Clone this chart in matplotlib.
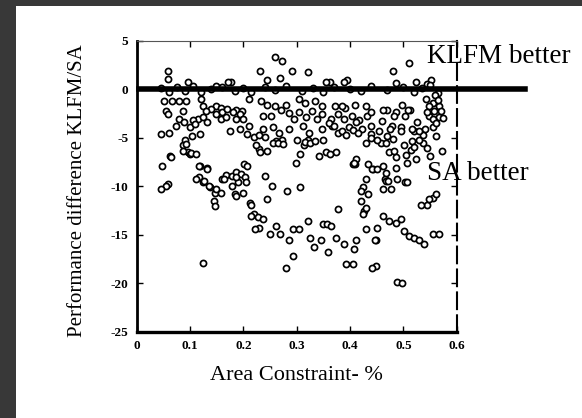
import numpy as np
import matplotlib.pyplot as plt
from matplotlib.patches import Rectangle

# points above the zero line
above_x = [0.058, 0.058, 0.096, 0.149, 0.177, 0.231, 0.259, 0.272, 0.269, 0.291, 0.322, 0.244,
           0.172, 0.394, 0.363, 0.355, 0.389, 0.48, 0.51, 0.524, 0.552, 0.545, 0.486]
above_y = [1.9, 1.0, 0.7, 0.35, 0.75, 1.9, 3.3, 2.9, 1.2, 1.9, 1.8, 0.9,
           0.7, 0.9, 0.7, 0.7, 0.75, 1.9, 2.7, 0.7, 0.9, 0.5, 0.6]

# points sitting on the zero line
zero_x = [0.045, 0.06, 0.075, 0.09, 0.105, 0.12, 0.14, 0.16, 0.185, 0.2, 0.215, 0.24, 0.26, 0.28,
          0.31, 0.33, 0.35, 0.37, 0.4, 0.42, 0.44, 0.47, 0.5, 0.52, 0.535, 0.55, 0.565]
zero_y = [0.1, -0.3, 0.2, -0.2, 0.3, -0.3, 0.0, 0.2, -0.2, 0.1, -0.3, 0.2, -0.1, 0.3,
          -0.2, 0.1, -0.3, 0.2, 0.0, -0.2, 0.3, -0.1, 0.2, -0.3, 0.1, 0.4, -0.4]

# main band between 0 and -8
band_x = [0.052, 0.067, 0.08, 0.092, 0.055, 0.058, 0.121, 0.124, 0.149, 0.158, 0.186, 0.198, 0.211,
          0.086, 0.08, 0.074, 0.089, 0.061, 0.046, 0.099, 0.114, 0.124, 0.131, 0.149, 0.158, 0.167,
          0.18, 0.186, 0.193, 0.2, 0.21, 0.193, 0.174, 0.118, 0.103,
          0.062, 0.087, 0.097, 0.10, 0.09, 0.119, 0.047, 0.092, 0.064, 0.086, 0.101, 0.112, 0.117,
          0.131, 0.202, 0.206,
          0.233, 0.245, 0.26, 0.279, 0.304, 0.316, 0.335, 0.347, 0.372, 0.391, 0.41, 0.429, 0.236,
          0.252, 0.27, 0.286, 0.295, 0.304, 0.317, 0.329, 0.338, 0.347, 0.364, 0.377, 0.389, 0.404,
          0.417, 0.432, 0.236, 0.255, 0.267, 0.286, 0.311, 0.323, 0.347, 0.367, 0.377, 0.398, 0.423,
          0.439,
          0.542, 0.556, 0.549, 0.567, 0.558, 0.549, 0.567, 0.513, 0.497, 0.503, 0.525, 0.486, 0.47,
          0.46, 0.478, 0.496, 0.52, 0.54, 0.556, 0.572, 0.55, 0.506, 0.409,
          0.458, 0.474, 0.486, 0.502, 0.514, 0.524, 0.536, 0.461,
          0.23, 0.299, 0.342, 0.355, 0.373, 0.405,
          0.30, 0.314, 0.321, 0.273, 0.262, 0.206, 0.224, 0.245, 0.231, 0.307, 0.349, 0.363, 0.384,
          0.392, 0.429, 0.468, 0.482, 0.516, 0.53, 0.537, 0.561, 0.412, 0.433, 0.408,
          0.384, 0.44, 0.461, 0.482, 0.509, 0.544, 0.555, 0.44, 0.412, 0.454, 0.475, 0.495, 0.516,
          0.53,
          0.255, 0.265, 0.275, 0.315, 0.325, 0.335, 0.22, 0.23, 0.24, 0.44, 0.45, 0.47, 0.48, 0.52,
          0.505, 0.545, 0.405, 0.415, 0.36, 0.37, 0.14, 0.13, 0.16, 0.17, 0.105, 0.11, 0.56, 0.565,
          0.57, 0.575, 0.562]
band_y = [-1.2, -1.2, -1.2, -1.2, -2.2, -2.6, -1.0, -1.7, -1.7, -1.9, -2.1, -2.3, -1.0,
          -2.2, -3.1, -3.8, -3.4, -4.5, -4.6, -3.9, -3.1, -2.9, -3.4, -2.6, -3.1, -2.9,
          -2.4, -3.1, -2.6, -3.1, -3.8, -4.1, -4.3, -4.6, -4.8,
          -6.9, -5.8, -6.5, -6.7, -5.2, -7.9, -7.9, -5.7, -7.0, -6.4, -6.6, -6.7, -7.9,
          -8.1, -7.7, -7.9,
          -1.2, -1.6, -1.7, -1.6, -1.0, -1.4, -1.2, -1.7, -1.7, -1.9, -1.6, -1.7, -2.75,
          -2.75, -2.1, -2.5, -3.1, -2.4, -2.9, -2.2, -3.1, -2.6, -3.1, -2.6, -3.1, -2.75,
          -3.2, -2.75, -4.1, -3.9, -4.5, -4.1, -3.8, -4.5, -4.1, -3.8, -4.5, -3.9, -4.1,
          -4.6,
          -1.0, -1.4, -1.7, -1.7, -2.2, -2.75, -2.9, -2.1, -1.6, -2.75, -3.4, -2.4, -2.1,
          -3.3, -3.8, -3.9, -4.3, -4.1, -3.9, -6.4, -6.9, -7.6, -7.7,
          -5.5, -6.5, -7.0, -5.8, -6.3, -7.2, -5.5, -7.9,
          -6.2, -7.6, -6.9, -6.5, -6.5, -7.7,
          -5.2, -5.8, -5.2, -5.2, -5.3, -4.6, -5.8, -6.4, -6.5, -6.7, -5.2, -6.7, -4.3,
          -4.7, -5.5, -5.5, -6.4, -5.3, -5.2, -4.7, -4.8, -7.2, -7.7, -7.6,
          -1.7, -2.4, -2.1, -2.75, -2.1, -2.4, -3.1, -3.8, -3.4, -4.3, -4.1, -4.3, -4.1,
          -4.3,
          -5.5, -5.6, -5.7, -5.4, -5.5, -5.3, -4.9, -4.7, -4.9, -5.0, -5.2, -4.8, -5.1, -6.0,
          -6.8, -6.1, -4.2, -4.5, -3.5, -3.8, -2.0, -2.2, -2.4, -2.0, -3.2, -3.6, -0.6, -1.1,
          -2.3, -3.0, -3.5]

# deeper points below -8
deep_x = [0.058, 0.055, 0.131, 0.116, 0.125, 0.137, 0.146, 0.144, 0.146, 0.159, 0.168, 0.178, 0.187,
          0.196, 0.203, 0.19, 0.178, 0.184, 0.212, 0.219, 0.241, 0.253, 0.244, 0.281, 0.306,
          0.487, 0.466, 0.503, 0.425, 0.444, 0.42, 0.378, 0.426, 0.544, 0.556, 0.562,
          0.468, 0.477, 0.533, 0.549, 0.461, 0.474, 0.486, 0.496, 0.502, 0.511, 0.52, 0.53, 0.539,
          0.555, 0.567, 0.449, 0.451, 0.449, 0.489, 0.498,
          0.43, 0.442, 0.42, 0.424, 0.43, 0.227, 0.236, 0.23, 0.261, 0.249, 0.268, 0.286, 0.293,
          0.304, 0.321, 0.324, 0.333, 0.346, 0.349, 0.356, 0.364, 0.358, 0.374, 0.389, 0.411, 0.408,
          0.43, 0.446, 0.293, 0.28, 0.392, 0.405, 0.442,
          0.046, 0.111, 0.127, 0.136, 0.149, 0.158, 0.164, 0.186, 0.205, 0.186, 0.199, 0.214, 0.214,
          0.221, 0.124,
          0.471, 0.461, 0.433, 0.488, 0.506, 0.45, 0.468]
deep_y = [-9.8, -10.0, -8.2, -9.1, -9.6, -10.1, -10.7, -11.5, -12.0, -9.3, -8.8, -9.0, -8.5,
          -8.7, -9.1, -9.6, -10.0, -10.8, -11.7, -12.9, -8.9, -10.0, -11.3, -10.5, -10.1,
          -8.1, -9.3, -9.6, -10.1, -8.2, -11.5, -12.4, -12.6, -11.9, -11.2, -10.8,
          -9.5, -10.3, -11.9, -11.3, -13.1, -13.6, -13.8, -13.4, -14.6, -15.1, -15.3, -15.6, -16.0,
          -14.9, -14.9, -15.5, -14.3, -18.2, -19.9, -20.0,
          -9.3, -8.2, -10.5, -12.9, -12.2, -13.2, -13.4, -14.3, -14.1, -14.9, -14.9, -15.6, -14.4,
          -14.4, -13.6, -15.3, -16.3, -15.6, -13.9, -13.9, -14.1, -16.8, -15.3, -16.0, -15.5, -16.5,
          -14.4, -15.5, -17.2, -18.4, -18.0, -18.0, -18.4,
          -10.3, -9.3, -9.5, -10.0, -10.3, -10.7, -9.3, -9.1, -9.6, -11.0, -10.7, -11.9, -13.1,
          -14.4, -17.9,
          -9.5, -10.3, -10.8, -9.3, -9.6, -8.2, -8.6]

x_ticks = [0, 0.1, 0.2, 0.3, 0.4, 0.5, 0.6]
x_labels = ['0', '0.1', '0.2', '0.3', '0.4', '0.5', '0.6']
y_ticks = [5, 0, -5, -10, -15, -20, -25]

plt.rcParams['font.family'] = ['Liberation Serif', 'DejaVu Serif']
plt.rcParams['axes.unicode_minus'] = False

fig = plt.figure(figsize=(5.82, 4.18), dpi=100)
fig.patch.set_facecolor('white')
# dark scan border on the left and top
fig.patches.append(Rectangle((0, 0), 16 / 582, 1, transform=fig.transFigure,
                             facecolor='#383838', edgecolor='none', zorder=-1))
fig.patches.append(Rectangle((0, 1 - 6 / 418), 1, 6 / 418, transform=fig.transFigure,
                             facecolor='#383838', edgecolor='none', zorder=-1))

ax = fig.add_axes([0.2349, 0.2065, 0.5498, 0.6962])

xs = np.concatenate([above_x, zero_x, band_x, deep_x])
ys = np.concatenate([above_y, zero_y, band_y, deep_y])
ax.plot(xs, ys, 'o', ms=4.4, mfc='white', mec='black', mew=1.25, zorder=3)

ax.plot([0.005, 0.728], [0, 0], color='black', lw=4, clip_on=False, zorder=4)

ax.set_xlim(0, 0.6)
ax.set_ylim(-25, 5)
ax.set_xticks(x_ticks)
ax.set_xticklabels(x_labels)
ax.set_yticks(y_ticks)
ax.tick_params(direction='in', top=True, right=True, length=4, width=1,
               labelsize=9.5, pad=6)
for lab in ax.get_xticklabels() + ax.get_yticklabels():
    lab.set_fontweight('bold')

ax.spines['left'].set_linewidth(2)
ax.spines['bottom'].set_linewidth(2.4)
ax.spines['top'].set_linewidth(0.8)
ax.spines['top'].set_color('#555555')
ax.spines['right'].set_linewidth(1.5)
ax.spines['right'].set_linestyle((0, (8, 3)))

ax.set_xlabel('Area Constraint- %', fontsize=16, va='center')
ax.xaxis.set_label_coords(0.5, -0.149)
ax.set_ylabel('Performance difference KLFM/SA', fontsize=15, va='center')
ax.yaxis.set_label_coords(-0.1866, 0.4835)

ax.text(0.544, 3.4, 'KLFM better', fontsize=19.5, va='center', ha='left', clip_on=False)
ax.text(0.544, -8.7, 'SA better', fontsize=19.5, va='center', ha='left', clip_on=False)

fig.savefig('out.png', dpi=100)
